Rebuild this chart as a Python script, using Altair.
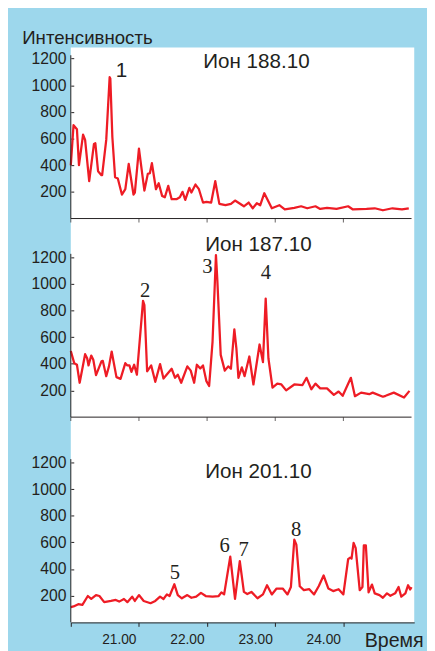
import altair as alt
import pandas as pd

# ---------------- data ----------------
# Ion 188.10
t1 = [20.00, 20.04, 20.09, 20.12, 20.18, 20.21, 20.27, 20.34, 20.36, 20.40, 20.45, 20.46,
      20.52, 20.57, 20.58, 20.61, 20.65, 20.69, 20.75, 20.80, 20.85, 20.92, 20.94, 21.00,
      21.08, 21.13, 21.16, 21.19, 21.25, 21.29, 21.34, 21.38, 21.43, 21.48, 21.55, 21.60,
      21.64, 21.68, 21.74, 21.77, 21.83, 21.88, 21.94, 21.99, 22.06, 22.12, 22.18, 22.27,
      22.35, 22.41, 22.54, 22.61, 22.67, 22.73, 22.78, 22.84, 22.95, 23.06, 23.14, 23.28,
      23.38, 23.47, 23.59, 23.66, 23.76, 23.90, 24.07, 24.14, 24.34, 24.46, 24.58, 24.72,
      24.86, 24.96]
v1 = [400, 700, 670, 400, 630, 590, 280, 560, 565, 355, 325, 325,
      590, 1060, 1050, 610, 310, 300, 180, 220, 410, 180, 195, 525,
      210, 335, 340, 415, 220, 265, 170, 160, 245, 145, 145, 160,
      200, 140, 230, 195, 255, 220, 120, 125, 120, 280, 110, 100,
      110, 135, 92, 120, 77, 115, 100, 190, 77, 100, 68, 80,
      92, 77, 92, 72, 80, 72, 92, 68, 72, 77, 62, 77,
      68, 77]

# Ion 187.10
t2 = [20.00, 20.05, 20.09, 20.13, 20.21, 20.24, 20.26, 20.30, 20.33, 20.37, 20.45, 20.47,
      20.52, 20.56, 20.60, 20.67, 20.73, 20.80, 20.83, 20.86, 20.89, 20.93, 20.97, 21.06,
      21.08, 21.12, 21.18, 21.24, 21.31, 21.36, 21.48, 21.53, 21.57, 21.62, 21.71, 21.76,
      21.81, 21.85, 21.90, 21.94, 21.99, 22.03, 22.08, 22.13, 22.15, 22.20, 22.26, 22.31,
      22.35, 22.40, 22.43, 22.46, 22.51, 22.55, 22.62, 22.68, 22.77, 22.82, 22.86, 22.90,
      22.96, 23.03, 23.09, 23.16, 23.28, 23.40, 23.46, 23.53, 23.59, 23.66, 23.76, 23.86,
      23.93, 23.99, 24.11, 24.17, 24.26, 24.38, 24.43, 24.58, 24.62, 24.74, 24.89, 24.97]
v2 = [496, 405, 393, 258, 472, 442, 388, 462, 430, 315, 418, 422,
      307, 381, 492, 300, 287, 405, 388, 388, 339, 393, 319, 872,
      840, 344, 388, 265, 398, 290, 363, 295, 319, 258, 381, 349,
      258, 393, 365, 388, 270, 234, 565, 1216, 1032, 467, 349, 381,
      363, 658, 516, 295, 374, 307, 455, 245, 545, 413, 889, 442,
      221, 251, 245, 201, 245, 241, 295, 209, 251, 216, 216, 167,
      192, 160, 295, 157, 184, 172, 184, 153, 160, 184, 147, 197]

# Ion 201.10
t3 = [20.00, 20.04, 20.11, 20.17, 20.25, 20.30, 20.37, 20.42, 20.49, 20.59, 20.66, 20.71,
      20.78, 20.83, 20.90, 20.94, 21.00, 21.07, 21.17, 21.24, 21.31, 21.36, 21.41, 21.45,
      21.52, 21.57, 21.63, 21.71, 21.77, 21.84, 21.91, 21.98, 22.08, 22.17, 22.21, 22.25,
      22.34, 22.41, 22.48, 22.54, 22.59, 22.65, 22.74, 22.82, 22.88, 22.95, 23.02, 23.11,
      23.18, 23.23, 23.28, 23.31, 23.36, 23.42, 23.50, 23.57, 23.64, 23.71, 23.78, 23.85,
      23.93, 24.00, 24.07, 24.10, 24.12, 24.15, 24.18, 24.24, 24.28, 24.30, 24.33, 24.37,
      24.42, 24.46, 24.53, 24.58, 24.64, 24.69, 24.76, 24.81, 24.85, 24.91, 24.95, 24.98,
      25.00]
v3 = [115, 120, 137, 132, 198, 176, 205, 198, 152, 161, 169, 156,
      176, 152, 193, 161, 205, 161, 144, 161, 193, 176, 210, 198,
      286, 205, 181, 205, 185, 193, 222, 198, 193, 198, 225, 210,
      493, 176, 460, 229, 213, 229, 181, 210, 279, 210, 254, 254,
      210, 266, 621, 584, 271, 242, 249, 210, 273, 352, 254, 235,
      249, 210, 474, 486, 479, 596, 559, 242, 266, 577, 577, 225,
      284, 218, 205, 185, 218, 200, 218, 266, 193, 218, 279, 247,
      265]

panel_titles = ["Ион 188.10", "Ион 187.10", "Ион 201.10"]
title_t = [21.944, 21.973, 21.973]
title_v = [1130, 1244, 1084]

# peak numbers: panel (0..2), label, time, intensity
peak_panel = [0, 1, 1, 1, 2, 2, 2, 2]
peak_label = ["1", "2", "3", "4", "5", "6", "7", "8"]
peak_t = [20.742, 21.09, 22.006, 22.863, 21.526, 22.258, 22.535, 23.308]
peak_v = [1059, 905, 1080, 1036, 324, 525, 501, 648]

y_ticks = [200, 400, 600, 800, 1000, 1200]
x_ticks = [20, 21, 22, 23, 24]

# ---------------- layout / style ----------------
RED = "#ee1c25"
INK = "#231f20"
BLUE = "#9dd7ec"
SANS = "Liberation Sans"
SERIF = "Liberation Serif"
W, H = 350, 586
OFF = [3030, 1540, 0]       # vertical offset of each panel's zero line (intensity units)
YTOP = 4314                 # top of the stacked plot (units; 1200 units = 163 px)
XDOM = [20, 25.04]
XEND = 25.0

xs = alt.Scale(domain=XDOM, nice=False, zero=False)
ys = alt.Scale(domain=[0, YTOP], nice=False, zero=False)

ytick_vals = [o + v for o in OFF for v in y_ticks]
label_expr = ("datum.value > 3000 ? datum.value - 3030 : "
              "datum.value > 1500 ? datum.value - 1540 : datum.value")

xaxis = alt.Axis(values=x_ticks,
                 labelExpr="datum.value == 20 ? '' : format(datum.value, '.2f')",
                 labelAlign="right", labelOffset=-3, labelPadding=7, labelFontSize=14,
                 tickSize=4, title="Время", titleX=299, titleY=25, titleAlign="left",
                 titleBaseline="alphabetic", titleFontSize=20)
yaxis = alt.Axis(values=ytick_vals, labelExpr=label_expr, domain=False,
                 tickSize=3, offset=-3, labelPadding=5, labelFontSize=16,
                 title="Интенсивность", titleAngle=0, titleX=-53, titleY=-4,
                 titleAlign="left", titleBaseline="alphabetic", titleFontSize=19)

X = alt.X("t:Q", scale=xs, axis=xaxis)
Y = alt.Y("y:Q", scale=ys, axis=yaxis)

layers = []
series = [(t1, v1), (t2, v2), (t3, v3)]
for i, (t, v) in enumerate(series):
    df = pd.DataFrame({"t": t, "v": v, "p": i})
    layers.append(
        alt.Chart(df).mark_line(color=RED, strokeWidth=2.3, strokeJoin="round")
        .transform_calculate(y=f"datum.v + {OFF[i]}")
        .encode(x=X, y=Y)
    )

# y-axis lines of the three panels
axes_df = pd.DataFrame({"t": [20, 20, 20], "y": OFF, "y1": [o + 1225 for o in OFF]})
layers.append(
    alt.Chart(axes_df).mark_rule(color=INK, strokeWidth=1).encode(x=X, y=Y, y2="y1:Q")
)
# x-axis lines and ticks of the upper two panels
xl_df = pd.DataFrame({"t": [XDOM[0]] * 2, "b": [XEND] * 2, "y": OFF[:2]})
layers.append(
    alt.Chart(xl_df).mark_rule(color=INK, strokeWidth=1).encode(x=X, x2="b:Q", y=Y)
)
tk_df = pd.DataFrame({"t": [x for _ in OFF[:2] for x in x_ticks],
                      "y": [o for o in OFF[:2] for _ in x_ticks]})
layers.append(
    alt.Chart(tk_df).mark_tick(color=INK, orient="vertical", size=4, thickness=1, yOffset=2)
    .encode(x=X, y=Y)
)
# panel titles
tt_df = pd.DataFrame({"t": title_t, "v": title_v, "p": [0, 1, 2], "s": panel_titles})
layers.append(
    alt.Chart(tt_df).mark_text(align="left", baseline="alphabetic", fontSize=21,
                               font=SANS, color=INK)
    .transform_calculate(y=f"datum.v + [{OFF[0]}, {OFF[1]}, {OFF[2]}][datum.p]")
    .encode(x=X, y=Y, text="s:N")
)
# peak numbers
pk_df = pd.DataFrame({"t": peak_t, "v": peak_v, "p": peak_panel, "label": peak_label})
for fnt, cond in [(SANS, "datum.label == '1'"), (SERIF, "datum.label != '1'")]:
    layers.append(
        alt.Chart(pk_df).mark_text(align="center", baseline="alphabetic", fontSize=21,
                                   font=fnt, color=INK)
        .transform_filter(cond)
        .transform_calculate(y=f"datum.v + [{OFF[0]}, {OFF[1]}, {OFF[2]}][datum.p]")
        .encode(x=X, y=Y, text="label:N")
    )

chart = alt.layer(*layers).properties(
    width=W, height=H,
    autosize=alt.AutoSizeParams(type="none"),
    padding={"left": 64, "top": 34, "right": 13, "bottom": 23},
).configure(background=BLUE).configure_view(
    fill="white", stroke=None
).configure_axis(
    domainColor=INK, tickColor=INK, labelColor=INK, titleColor=INK,
    labelFont=SANS, titleFont=SANS, titleFontWeight="normal", grid=False
)

chart.save("out.html", embed_options={"renderer": "svg", "actions": False})
